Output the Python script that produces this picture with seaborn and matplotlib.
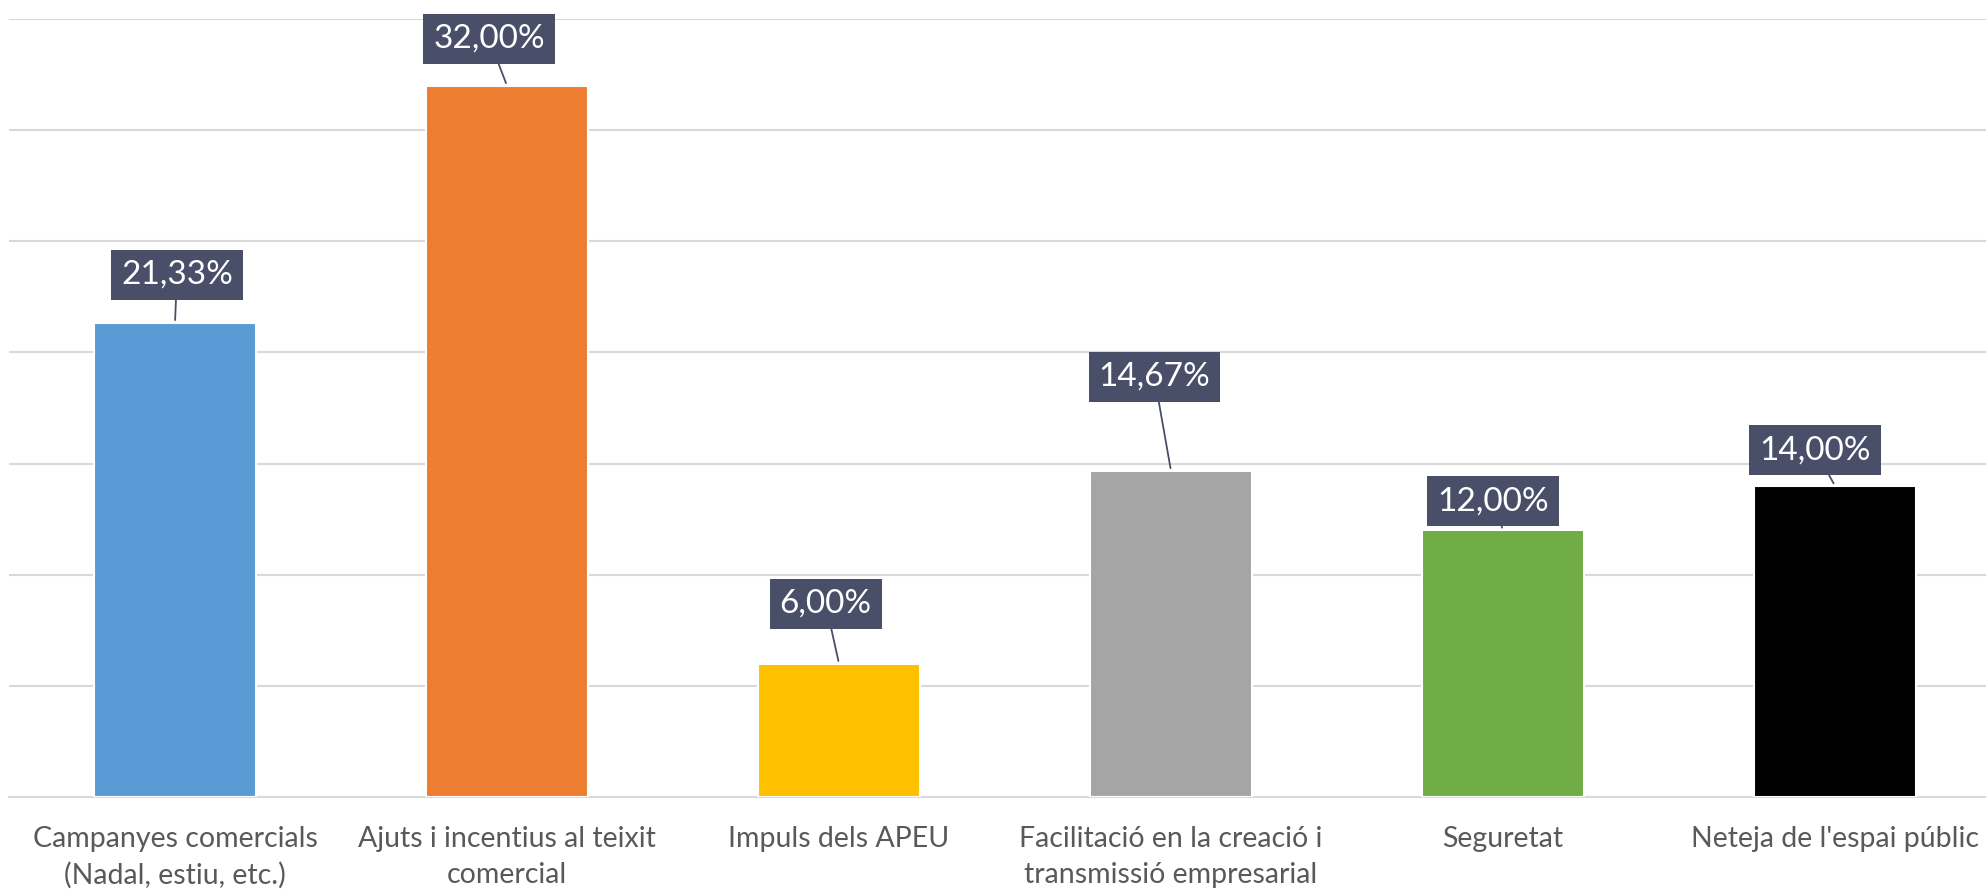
import matplotlib
matplotlib.use('Agg')
import numpy as np
import pandas as pd
import seaborn as sns
from matplotlib import pyplot as plt

# values (percent)
categories = [
    "Campanyes comercials\n(Nadal, estiu, etc.)",
    "Ajuts i incentius al teixit\ncomercial",
    "Impuls dels APEU",
    "Facilitació en la creació i\ntransmissió empresarial",
    "Seguretat",
    "Neteja de l'espai públic",
]
values = [21.33, 32.00, 6.00, 14.67, 12.00, 14.00]
labels = ["21,33%", "32,00%", "6,00%", "14,67%", "12,00%", "14,00%"]
colors = ["#5B9BD5", "#ED7D31", "#FFC000", "#A5A5A5", "#70AD47", "#000000"]

# where each callout box sits (category offset, value height)
label_dx = [0.006, -0.054, -0.04, -0.05, -0.03, -0.06]
label_y = [23.5, 34.1, 8.7, 18.9, 13.3, 15.6]

sns.set_theme(style="white")
plt.rcParams['font.family'] = ['Lato', 'DejaVu Sans']

df = pd.DataFrame({"cat": categories, "val": values})

fig = plt.figure(figsize=(19.86, 8.91), dpi=100)
ax = fig.add_axes([9 / 1986, (891 - 797) / 891, 1992 / 1986, 778 / 891])

sns.barplot(data=df, x="cat", y="val", hue="cat", palette=colors,
            legend=False, width=0.485, ax=ax, saturation=1,
            edgecolor="white", linewidth=1.5, zorder=3)

ax.set_ylim(0, 35)
ax.set_xlim(-0.5, 5.5)
ax.set_yticks(np.arange(0, 36, 5))
ax.set_yticklabels([])
ax.tick_params(axis="y", length=0)
ax.yaxis.grid(True, color="#D9D9D9", linewidth=1.5, zorder=0)
ax.set_axisbelow(True)
ax.set_xlabel("")
ax.set_ylabel("")

for s in ["left", "right", "top"]:
    ax.spines[s].set_visible(False)
ax.spines["bottom"].set_color("#D9D9D9")
ax.spines["bottom"].set_linewidth(1.5)

ax.set_xticks(np.arange(-0.5, 6, 1), minor=True)
ax.tick_params(axis="x", which="minor", length=6, width=1.5, color="#D9D9D9")
ax.tick_params(axis="x", which="major", length=0, pad=21,
               labelsize=20.5, labelcolor="#595959")
for t in ax.get_xticklabels():
    t.set_linespacing(1.45)

for i, (v, lab) in enumerate(zip(values, labels)):
    ax.annotate(lab, xy=(i, v), xytext=(i + label_dx[i], label_y[i]),
                textcoords="data", ha="center", va="center",
                fontsize=24, color="white",
                bbox=dict(boxstyle="square,pad=0.3", fc="#494E69", ec="none"),
                arrowprops=dict(arrowstyle="-", color="#494E69", lw=1.3,
                                shrinkA=0, shrinkB=2),
                zorder=5)

plt.savefig("out.png", dpi=100)
